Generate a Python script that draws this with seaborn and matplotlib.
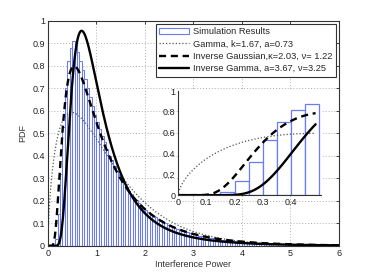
import math
import numpy as np
import pandas as pd
import seaborn as sns
import matplotlib
matplotlib.use("Agg")
import matplotlib.pyplot as plt
from matplotlib.patches import Patch
from matplotlib.ticker import FuncFormatter

# histogram of simulated interference power, bin width 0.05 on [0, 6]
bin_width = 0.05
sim_heights = [
    0, 0, 0, 0.03, 0.14, 0.32, 0.53, 0.70, 0.82, 0.88,
    0.91, 0.90, 0.86, 0.82, 0.78, 0.74, 0.70, 0.66, 0.62, 0.58,
    0.55, 0.52, 0.49, 0.46, 0.43, 0.40, 0.38, 0.355, 0.335, 0.315,
    0.295, 0.28, 0.26, 0.245, 0.23, 0.215, 0.205, 0.19, 0.18, 0.17,
    0.16, 0.15, 0.14, 0.135, 0.127, 0.12, 0.113, 0.107, 0.10, 0.095,
    0.089, 0.084, 0.079, 0.075, 0.071, 0.067, 0.063, 0.060, 0.057, 0.054,
    0.051, 0.048, 0.046, 0.043, 0.041, 0.039, 0.037, 0.035, 0.033, 0.032,
    0.030, 0.028, 0.027, 0.026, 0.024, 0.023, 0.022, 0.021, 0.020, 0.019,
    0.018, 0.017, 0.016, 0.016, 0.015, 0.014, 0.013, 0.013, 0.012, 0.012,
    0.011, 0.011, 0.010, 0.010, 0.009, 0.009, 0.008, 0.008, 0.008, 0.007,
    0.007, 0.007, 0.006, 0.006, 0.006, 0.005, 0.005, 0.005, 0.005, 0.004,
    0.004, 0.004, 0.004, 0.004, 0.003, 0.003, 0.003, 0.003, 0.003, 0.003,
]

# fitted distribution parameters (from the legend)
gamma_k, gamma_a = 1.67, 0.73
ig_kappa, ig_nu = 2.03, 1.22
invg_a, invg_nu = 3.67, 3.25

labels = [
    "Simulation Results",
    "Gamma, k=1.67, a=0.73",
    "Inverse Gaussian,\u03ba=2.03, \u03bd= 1.22",
    "Inverse Gamma, a=3.67, \u03bd=3.25",
]


def gamma_pdf(x, k, th):
    return x ** (k - 1) * np.exp(-x / th) / (math.gamma(k) * th ** k)


def inv_gauss_pdf(x, lam, mu):
    return np.sqrt(lam / (2 * np.pi * x ** 3)) * np.exp(-lam * (x - mu) ** 2 / (2 * mu ** 2 * x))


def inv_gamma_pdf(x, a, b):
    return b ** a / math.gamma(a) * x ** (-a - 1) * np.exp(-b / x)


centers = (np.arange(len(sim_heights)) + 0.5) * bin_width
hist_df = pd.DataFrame({"x": centers, "h": sim_heights})

xs = np.linspace(0.001, 6, 1200)
curves = pd.DataFrame({
    "x": xs,
    "gamma": gamma_pdf(xs, gamma_k, gamma_a),
    "ig": inv_gauss_pdf(xs, ig_kappa, ig_nu),
    "invg": inv_gamma_pdf(xs, invg_a, invg_nu),
})

sns.set_style("white")
plt.rcParams["font.family"] = ["Liberation Sans", "DejaVu Sans"]
plt.rcParams["font.size"] = 6.5

BLUE = "#6a7cf5"
styles = {
    "gamma": dict(color="#555555", lw=0.9, linestyle=(0, (1, 1.6))),
    "ig": dict(color="black", lw=1.7, linestyle=(0, (3, 2))),
    "invg": dict(color="black", lw=1.7, linestyle="-"),
}


def draw(ax, df_h, df_c, edge_lw):
    sns.histplot(data=df_h, x="x", weights="h", binwidth=bin_width,
                 binrange=(0, len(df_h) * bin_width),
                 stat="count", element="bars", fill=True, ax=ax,
                 facecolor="white", edgecolor=BLUE, linewidth=edge_lw, alpha=1)
    for key in ["gamma", "ig", "invg"]:
        sns.lineplot(data=df_c, x="x", y=key, ax=ax, **styles[key])
    ax.set_xlabel("")
    ax.set_ylabel("")


fmt = FuncFormatter(lambda v, p: f"{v:g}")

fig = plt.figure(figsize=(3.74, 2.76), dpi=100)
ax = fig.add_axes([0.128, 0.109, 0.778, 0.815])
ax.grid(True, color="#b0b0b0", linestyle=(0, (1, 2)), lw=0.7)
ax.set_axisbelow(True)
draw(ax, hist_df, curves, 0.75)
ax.set_xlim(0, 6)
ax.set_ylim(0, 1)
ax.set_xticks(range(0, 7))
ax.set_yticks(np.linspace(0, 1, 11))
ax.xaxis.set_major_formatter(fmt)
ax.yaxis.set_major_formatter(fmt)
ax.tick_params(direction="in", length=2.5, width=0.6, top=True, right=True,
               labelsize=6.5, pad=2, colors="#222222")
for s in ax.spines.values():
    s.set_linewidth(0.8)
    s.set_color("#333333")
ax.set_xlabel("Interference Power", fontsize=6.5, labelpad=1.5, color="#333333")
ax.set_ylabel("PDF", fontsize=6.5, labelpad=4, color="#333333")

handles = [Patch(facecolor="white", edgecolor=BLUE, lw=0.8)]
handles += ax.get_lines()[-3:]
leg = ax.legend(handles, labels, loc="upper right", fontsize=6.7,
                frameon=True, fancybox=False, edgecolor="#333333",
                handlelength=3.2, handletextpad=0.4, borderpad=0.4,
                labelspacing=0.35, borderaxespad=0.3, framealpha=1)
leg.get_frame().set_linewidth(0.8)

# inset zoom of the left tail
ins = fig.add_axes([0.476, 0.293, 0.382, 0.377])
ins.set_facecolor("white")
n_in = 10
curves_in = curves[curves["x"] <= 0.49]
draw(ins, hist_df.iloc[:n_in], curves_in, 0.9)
ins.set_xlim(0, 0.505)
ins.set_ylim(0, 1)
ins.set_xticks([0, 0.1, 0.2, 0.3, 0.4])
ins.set_yticks([0, 0.2, 0.4, 0.6, 0.8, 1])
ins.xaxis.set_major_formatter(fmt)
ins.yaxis.set_major_formatter(fmt)
ins.tick_params(direction="in", length=2, width=0.6, labelsize=6.5, pad=2,
                colors="#222222")
ins.spines["top"].set_visible(False)
ins.spines["right"].set_visible(False)
for s in ["left", "bottom"]:
    ins.spines[s].set_linewidth(0.8)
    ins.spines[s].set_color("#333333")

fig.savefig("out.png", dpi=100)
